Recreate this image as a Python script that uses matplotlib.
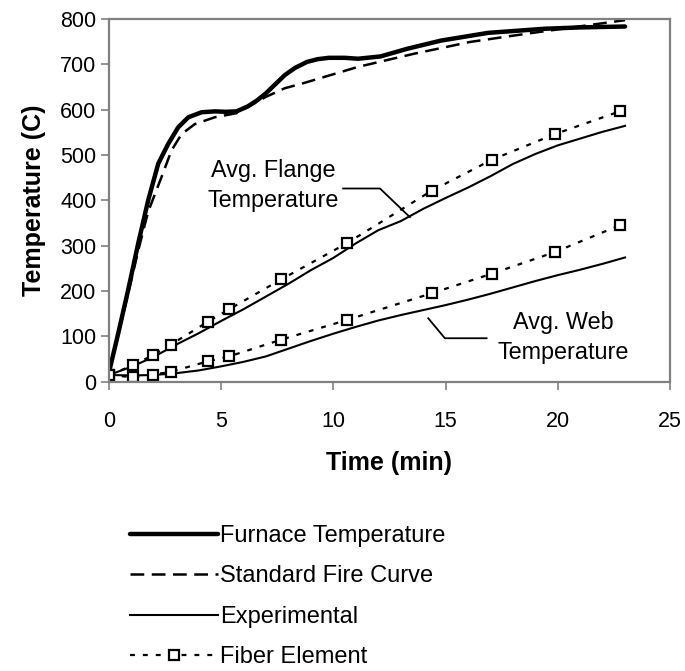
import matplotlib
matplotlib.use("Agg")
import matplotlib.pyplot as plt

plt.rcParams["font.family"] = ["Liberation Sans", "DejaVu Sans"]

# furnace temperature (thick solid)
t_furn = [0, 0.43, 0.86, 1.31, 1.75, 2.2, 2.64, 3.09, 3.54, 4.13, 4.72, 5.2, 5.69,
          6.19, 6.6, 7.0, 7.42, 7.84, 8.3, 8.83, 9.3, 9.8, 10.5, 11.1, 12.1, 13.3,
          14.8, 16.9, 19.4, 21.0, 23.0]
furnace = [20, 110, 203, 306, 400, 481, 524, 561, 583, 594, 596, 595, 596,
           607, 620, 636, 656, 676, 692, 705, 711, 714, 714, 712, 717, 734,
           752, 769, 778, 781, 783]

# standard fire curve (dashed)
t_std = [0, 0.86, 1.31, 1.75, 2.35, 2.79, 3.24, 3.83, 4.72, 5.69, 7.0, 7.84, 8.66,
         11.1, 13.6, 16.1, 18.6, 20.5, 23.0]
std_fire = [20, 195, 290, 375, 452, 510, 546, 568, 583, 592, 628, 647, 658,
            694, 723, 749, 767, 780, 797]

# experimental averages (thin solid)
t_exp = list(range(24))
flange_exp = [15, 33, 55, 82, 107, 134, 160, 188, 216, 246, 273, 305, 334, 354,
              381, 405, 428, 453, 480, 502, 521, 536, 551, 564]
web_exp = [15, 14, 15, 19, 25, 34, 44, 56, 73, 90, 106, 121, 135, 147,
           158, 169, 181, 194, 208, 222, 235, 247, 260, 274]

# fiber element model (dotted with square markers)
t_fib = [0, 1.07, 1.97, 2.76, 4.40, 5.36, 7.69, 10.59, 14.38, 17.05, 19.88, 22.77]
flange_fib = [15, 36, 59, 82, 132, 160, 226, 305, 421, 489, 546, 596]
web_fib = [15, 10, 16, 22, 45, 56, 93, 136, 195, 238, 286, 345]

# annotation text anchors and leader lines (data coords)
flange_txt = (7.32, 432)
flange_leader_t = [10.44, 12.08, 13.41]
flange_leader_T = [426, 426, 363]
web_txt = (20.25, 98)
web_leader_t = [16.83, 14.97, 14.23]
web_leader_T = [96, 96, 140]

fig = plt.figure(figsize=(6.85, 6.71), dpi=100)
ax = fig.add_axes([0.159, 0.431, 0.819, 0.541])

l_furn, = ax.plot(t_furn, furnace, color="black", lw=3.2, solid_capstyle="round",
                  solid_joinstyle="round", label="Furnace Temperature")
l_std, = ax.plot(t_std, std_fire, color="black", lw=1.8, linestyle=(0, (5.5, 3)),
                 label="Standard Fire Curve")
l_exp, = ax.plot(t_exp, flange_exp, color="black", lw=1.5, label="Experimental")
ax.plot(t_exp, web_exp, color="black", lw=1.5)
fib_style = dict(color="black", lw=1.6, linestyle=(0, (2.2, 3.6)), marker="s",
                 markersize=6.5, markerfacecolor="white", markeredgecolor="black",
                 markeredgewidth=1.6)
l_fib, = ax.plot(t_fib, flange_fib, label="Fiber Element", **fib_style)
ax.plot(t_fib, web_fib, **fib_style)

ax.plot(flange_leader_t, flange_leader_T, color="black", lw=1.3)
ax.plot(web_leader_t, web_leader_T, color="black", lw=1.3)
ax.text(*flange_txt, "Avg. Flange\nTemperature", ha="center", va="center",
        fontsize=16.8, linespacing=1.38)
ax.text(*web_txt, "Avg. Web\nTemperature", ha="center", va="center",
        fontsize=16.8, linespacing=1.38)

ax.set_xlim(0, 25)
ax.set_ylim(0, 800)
ax.set_xticks(range(0, 26, 5))
ax.set_yticks(range(0, 801, 100))
ax.tick_params(labelsize=15.5, color="#808080", length=6, width=1.2)
ax.tick_params(axis="x", pad=15)
ax.tick_params(axis="y", pad=3)
for sp in ax.spines.values():
    sp.set_color("#808080")
    sp.set_linewidth(1.6)
ax.set_xlabel("Time (min)", fontsize=18, fontweight="bold", labelpad=14)
ax.set_ylabel("Temperature (C)", fontsize=18, fontweight="bold", labelpad=10)

fig.legend(handles=[l_furn, l_std, l_exp, l_fib], loc="upper left",
           bbox_to_anchor=(0.19, 0.2175), frameon=False, fontsize=17,
           handlelength=3.7, handletextpad=0.1, labelspacing=0.78,
           borderpad=0, borderaxespad=0)

fig.savefig("out.png", dpi=100)
